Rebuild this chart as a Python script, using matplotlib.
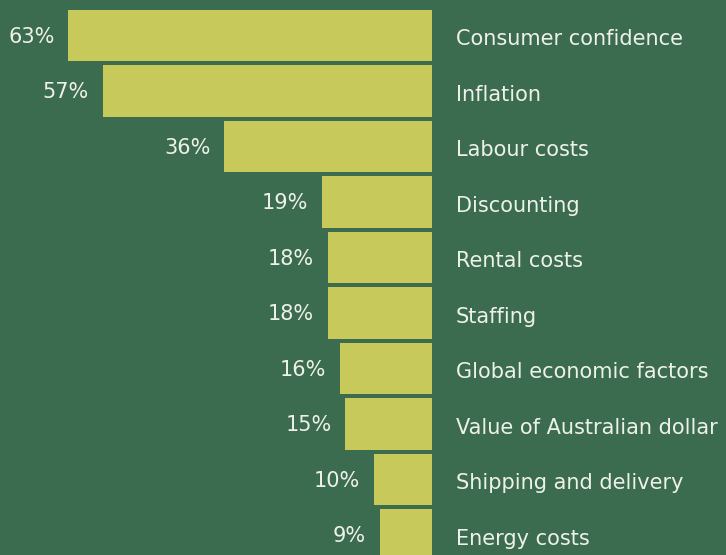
import matplotlib
matplotlib.use("Agg")
import matplotlib.pyplot as plt

categories = ["Consumer confidence", "Inflation", "Labour costs", "Discounting",
              "Rental costs", "Staffing", "Global economic factors",
              "Value of Australian dollar", "Shipping and delivery", "Energy costs"]
values = [63, 57, 36, 19, 18, 18, 16, 15, 10, 9]

BG = "#3b6c4f"
BAR = "#c7ca5a"
TXT = "#eef1ea"

fig = plt.figure(figsize=(7.26, 5.55), dpi=100, facecolor=BG)
ax = fig.add_axes([0, 0, 1, 1])
ax.set_facecolor(BG)

ypos = list(range(len(values)))
ax.barh(ypos, values, height=0.92, color=BAR, linewidth=0)

px = 5.77  # pixels per unit
ax.set_xlim(432 / px, (432 - 726) / px)
ax.set_ylim((555 - 35.5) / 55.5, -35.5 / 55.5)

for y, v, c in zip(ypos, values, categories):
    ax.text(-24 / px, y + 0.07, c, ha="left", va="center", color=TXT,
            fontsize=15, family="DejaVu Sans")
    ax.text(v + 14 / px, y + 0.02, f"{v}%", ha="right", va="center", color=TXT,
            fontsize=15, family="DejaVu Sans")

ax.axis("off")
fig.savefig("out.png", dpi=100, facecolor=BG)
